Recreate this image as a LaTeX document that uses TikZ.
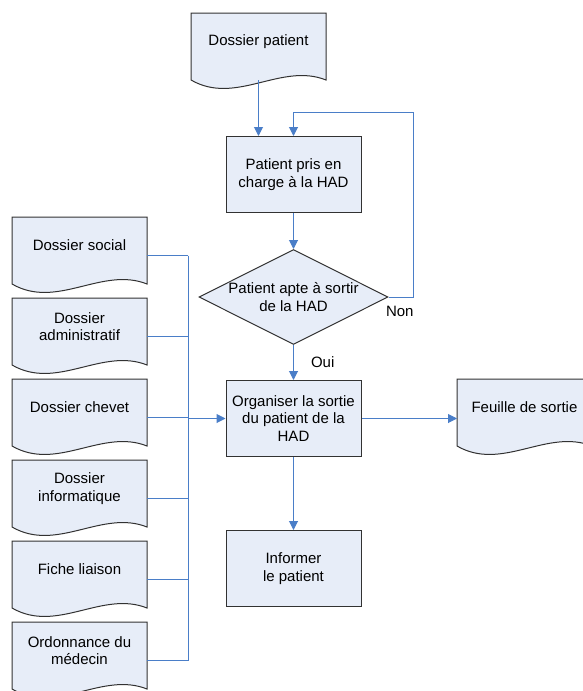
\documentclass[tikz,border=0pt]{standalone}
\usepackage{fontspec}
\setmainfont{Liberation Sans}
\usetikzlibrary{positioning,arrows.meta,calc,shapes.geometric,backgrounds}
\definecolor{shapefill}{RGB}{231,237,248}
\definecolor{flowblue}{RGB}{74,126,200}
\definecolor{outline}{RGB}{50,50,50}

\begin{document}
\begin{tikzpicture}[
  x=1pt, y=-1pt,
  node distance=24pt,
  every node/.style={font=\fontsize{15}{17.5}\selectfont},
  box/.style={draw=outline, fill=shapefill, line width=1pt, align=center, minimum width=135pt, minimum height=76pt, inner sep=2pt},
  doc/.style={align=center, minimum width=135pt, minimum height=57pt, inner sep=2pt, outer sep=0pt},
  docpath/.style={draw=outline, fill=shapefill, line width=1pt},
  decision/.style={diamond, aspect=2, draw=outline, fill=shapefill, line width=1pt, align=center, minimum width=189pt, minimum height=95pt, inner sep=-2pt},
  arrow/.style={-{Triangle[length=9pt,width=9pt]}, draw=flowblue, line width=1pt},
  link/.style={draw=flowblue, line width=1pt},
]
  \useasboundingbox (0,0) rectangle (583,691);

  % main column
  \node[doc] (patient) at (258.5,41.5) {Dossier patient};
  \node[box] (prise) at (293.5,174.5) {Patient pris en\\charge à la HAD};
  \node[decision, below=36pt of prise] (apte) {Patient apte à sortir\\de la HAD};
  \node[box, below=35pt of apte] (organiser) {Organiser la sortie\\du patient de la\\HAD};
  \node[box, below=73pt of organiser] (informer) {Informer\\le patient};
  \node[doc] (feuille) at (524.5,407.5) {Feuille de sortie};

  % documents on the left
  \node[doc] (social) at (79.5,245.5) {Dossier social};
  \node[doc, below=of social] (admin) {Dossier\\administratif};
  \node[doc, below=of admin] (chevet) {Dossier chevet};
  \node[doc, below=of chevet] (info) {Dossier\\informatique};
  \node[doc, below=of info] (liaison) {Fiche liaison};
  \node[doc, below=of liaison] (ordo) {Ordonnance du\\médecin};

  \begin{scope}[on background layer]
    \clip (0,0) rectangle (583,691);
    \foreach \d in {patient,feuille,social,admin,chevet,info,liaison,ordo}
      \path[docpath] (\d.north west) -- (\d.north east) -- ($(\d.south east)+(0,10)$)
        .. controls +(-45,-18) and ($(\d.south west)+(45,36)$) .. ($(\d.south west)+(0,10)$) -- cycle;
  \end{scope}

  \coordinate (bus) at (188,0);

  \draw[arrow] ($(patient.south)+(0,10)$) -- (patient.south |- prise.north);
  \draw[arrow] (prise.south) -- (apte.north);
  \draw[arrow] (apte.south) -- node[midway, anchor=west, inner sep=0pt, xshift=17pt] {Oui} (organiser.north);
  \draw[arrow] (apte.east) node[anchor=north west, inner sep=0pt, xshift=-3pt, yshift=-9pt] {Non}
    -- ++(25,0) |- ($(prise.north)+(0,-24)$) -- (prise.north);
  \draw[arrow] (organiser.south) -- (informer.north);
  \draw[arrow] (organiser.east) -- (organiser.east -| feuille.west);

  \foreach \d in {social,admin,chevet,info,liaison,ordo}
    \draw[link] ($(\d.east)+(0,10)$) -- ++(41,0);
  \draw[link] ($(social.east)+(41,10)$) -- ($(ordo.east)+(41,10)$);
  \draw[arrow] (organiser.west -| bus) -- (organiser.west);
\end{tikzpicture}
\end{document}
